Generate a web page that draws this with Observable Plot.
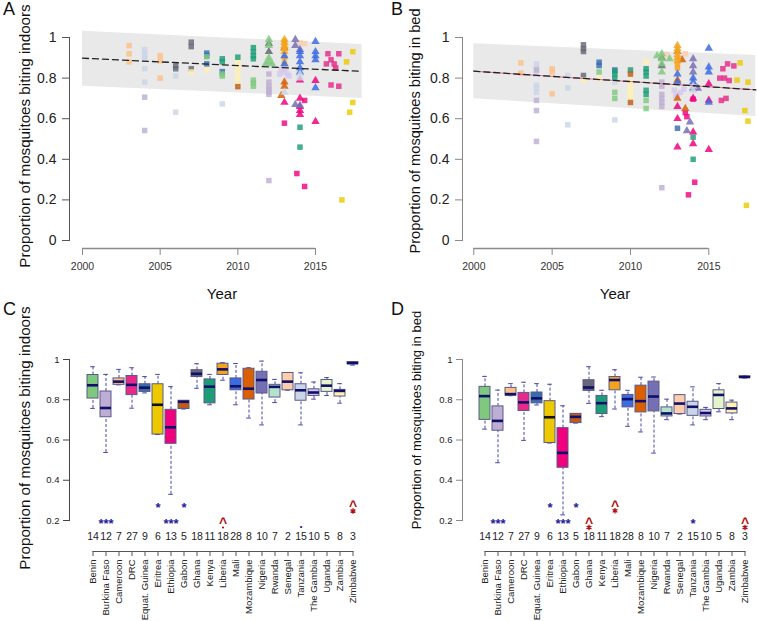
<!DOCTYPE html>
<html><head><meta charset="utf-8">
<script src="https://cdn.jsdelivr.net/npm/d3@7"></script>
<script src="https://cdn.jsdelivr.net/npm/@observablehq/plot@0.6"></script>
<style>
body{margin:0;background:#fff;font-family:"Liberation Sans",Arial,sans-serif;}
#wrap{position:relative;width:757px;height:621px;overflow:hidden;background:#fff;}
.panel{position:absolute;}
.txt{position:absolute;line-height:1;white-space:nowrap;color:#111;}
.rot{transform:translate(-50%,-50%) rotate(-90deg);}
.ctr{transform:translate(-50%,-50%);}
</style></head><body><div id="wrap"></div>
<script>
// ---------- data ----------
const countries = ["Benin","Burkina Faso","Cameroon","DRC","Equat. Guinea","Eritrea","Ethiopia","Gabon","Ghana","Kenya","Liberia","Mali","Mozambique","Nigeria","Rwanda","Senegal","Tanzania","The Gambia","Uganda","Zambia","Zimbabwe"];
const countryColors = ["#7fc97f","#beaed4","#fdc086","#e7298a","#386cb0","#eec900","#f0027f","#bf5b17","#666677","#1b9e77","#f4a41c","#3d6be0","#d95f02","#7570b3","#b3e2cd","#fdcdac","#cbd5e8","#d4c8ee","#e6f5c9","#fff2ae","#1c1c80"];
const sampleSizes = [14,12,7,27,9,6,13,5,18,11,18,28,8,10,7,2,15,10,5,8,3];
const yearTicks = [2000,2005,2010,2015];
const yTicksTop = [0,0.2,0.4,0.6,0.8,1];
const yTicksBottom = [0.2,0.4,0.6,0.8,1];

// boxplot stats: [lower whisker, q1, median, q3, upper whisker]
const indoorStats = [
 [0.757,0.806,0.872,0.923,0.964],[0.538,0.713,0.759,0.841,0.926],[0.874,0.874,0.890,0.906,0.951],[0.758,0.823,0.874,0.918,0.959],
 [0.834,0.839,0.860,0.877,0.915],[0.627,0.627,0.775,0.877,0.926],[0.330,0.581,0.663,0.750,0.865],[0.754,0.754,0.790,0.795,0.795],
 [0.857,0.913,0.929,0.947,0.979],[0.775,0.782,0.865,0.901,0.926],[0.897,0.923,0.951,0.979,0.984],[0.775,0.847,0.867,0.906,0.980],
 [0.709,0.801,0.855,0.954,0.959],[0.675,0.831,0.898,0.939,0.992],[0.786,0.811,0.864,0.874,0.901],[0.847,0.847,0.890,0.933,0.933],
 [0.675,0.795,0.847,0.877,0.934],[0.803,0.819,0.836,0.852,0.888],[0.821,0.839,0.870,0.898,0.910],[0.783,0.816,0.844,0.849,0.880],
 [0.972,0.977,0.982,0.987,0.990]];
const bedStats = [
 [0.654,0.700,0.818,0.864,0.916],[0.487,0.646,0.695,0.767,0.848],[0.820,0.820,0.828,0.859,0.880],[0.598,0.744,0.787,0.834,0.887],
 [0.774,0.782,0.807,0.836,0.880],[0.585,0.585,0.713,0.793,0.877],[0.228,0.462,0.536,0.659,0.770],[0.684,0.684,0.715,0.730,0.730],
 [0.782,0.844,0.861,0.897,0.964],[0.716,0.729,0.783,0.819,0.847],[0.754,0.847,0.898,0.913,0.949],[0.668,0.762,0.803,0.824,0.847],
 [0.640,0.737,0.793,0.870,0.912],[0.535,0.742,0.816,0.890,0.913],[0.701,0.717,0.732,0.762,0.803],[0.729,0.729,0.781,0.823,0.823],
 [0.675,0.720,0.765,0.790,0.864],[0.701,0.717,0.734,0.750,0.762],[0.740,0.754,0.824,0.847,0.880],[0.701,0.732,0.757,0.786,0.798],
 [0.908,0.910,0.913,0.916,0.918]];

// significance annotations: [country, y, symbol, mark below ("", "*", "."), colour]
const annotIndoor = [
 ["Burkina Faso",0.2,"***","","#1c1ca0"],["Eritrea",0.277,"*","","#1c1ca0"],["Ethiopia",0.2,"***","","#1c1ca0"],["Gabon",0.277,"*","","#1c1ca0"],
 ["Liberia",0.2,"^",".","#b01010"],["Tanzania",0.2,".","","#1c1ca0"],["Zimbabwe",0.282,"^","*","#b01010"]];
const annotBed = [
 ["Burkina Faso",0.2,"***","","#1c1ca0"],["Eritrea",0.277,"*","","#1c1ca0"],["Ethiopia",0.2,"***","","#1c1ca0"],["Gabon",0.277,"*","","#1c1ca0"],
 ["Ghana",0.2,"^","*","#b01010"],["Liberia",0.283,"^","*","#b01010"],["Tanzania",0.2,"*","","#1c1ca0"],["Zimbabwe",0.2,"^","*","#b01010"]];

// meta-regression fit: [year, lower, upper, fitted]
const fitIndoor = [[2000,0.760,1.031,0.898],[2018,0.700,0.966,0.833]];
const fitBed = [[2000,0.698,0.969,0.834],[2018,0.611,0.911,0.742]];

// study points: [country, year, proportion, shape s=square t=triangle]
const pointsIndoor = [
 ["Cameroon",2003,0.96,"s"],["Cameroon",2003,0.92,"s"],["Cameroon",2003,0.88,"s"],["Cameroon",2005,0.91,"s"],["Cameroon",2005,0.885,"s"],["Cameroon",2005,0.80,"s"],
 ["Tanzania",2004,0.94,"s"],["Tanzania",2004,0.925,"s"],["Tanzania",2004,0.91,"s"],["Tanzania",2004,0.895,"s"],["Tanzania",2004,0.846,"s"],["Tanzania",2004,0.78,"s"],["Tanzania",2006,0.81,"s"],["Tanzania",2006,0.632,"s"],["Tanzania",2009,0.673,"s"],
 ["Burkina Faso",2004,0.706,"s"],["Burkina Faso",2004,0.542,"s"],["Burkina Faso",2012,0.78,"s"],["Burkina Faso",2012,0.76,"s"],["Burkina Faso",2012,0.745,"s"],["Burkina Faso",2012,0.73,"s"],["Burkina Faso",2012,0.72,"s"],["Burkina Faso",2012,0.295,"s"],["Burkina Faso",2012,0.82,"s"],
 ["Ghana",2006,0.846,"s"],["Ghana",2006,0.86,"s"],["Ghana",2007,0.977,"s"],["Ghana",2007,0.955,"s"],["Ghana",2007,0.846,"s"],["Ghana",2012,0.97,"t"],["Ghana",2012,0.93,"t"],
 ["Zambia",2007,0.83,"s"],["Zambia",2008,0.84,"s"],["Zambia",2010,0.887,"s"],["Zambia",2010,0.86,"s"],["Zambia",2010,0.83,"s"],["Zambia",2010,0.80,"s"],["Zambia",2010,0.77,"s"],
 ["Equat. Guinea",2008,0.923,"s"],["Equat. Guinea",2008,0.91,"s"],["Equat. Guinea",2008,0.87,"s"],["Equat. Guinea",2009,0.832,"s"],
 ["Benin",2008,0.905,"s"],["Benin",2009,0.81,"s"],["Benin",2009,0.82,"s"],["Benin",2011,0.79,"s"],["Benin",2011,0.76,"s"],["Benin",2011,0.775,"s"],
 ["Benin",2012,0.99,"t"],["Benin",2012,0.96,"t"],["Benin",2012,0.90,"t"],["Benin",2012,0.88,"t"],["Benin",2011.8,0.87,"t"],["Benin",2012.2,0.87,"t"],
 ["Kenya",2009,0.895,"s"],["Kenya",2009,0.88,"s"],["Kenya",2010,0.903,"s"],["Kenya",2011,0.95,"s"],["Kenya",2011,0.93,"s"],["Kenya",2011,0.91,"s"],["Kenya",2011,0.895,"s"],["Kenya",2014,0.558,"s"],["Kenya",2014,0.46,"s"],
 ["Gabon",2010,0.758,"s"],
 ["Mozambique",2013,0.78,"t"],["Mozambique",2013,0.76,"t"],["Mozambique",2012.8,0.714,"t"],["Mozambique",2013,0.95,"t"],
 ["Liberia",2013,0.99,"t"],["Liberia",2013,0.975,"t"],["Liberia",2013,0.96,"t"],["Liberia",2013,0.945,"t"],["Liberia",2013,0.93,"t"],["Liberia",2013,0.98,"s"],["Liberia",2013,0.90,"s"],["Liberia",2013,0.87,"s"],
 ["The Gambia",2012.8,0.84,"s"],["The Gambia",2013,0.83,"s"],["The Gambia",2013.2,0.82,"s"],["The Gambia",2012.7,0.82,"s"],["The Gambia",2013.1,0.85,"s"],["The Gambia",2013.3,0.81,"s"],
 ["Ethiopia",2013,0.68,"t"],["Ethiopia",2014,0.70,"t"],["Ethiopia",2014,0.66,"t"],["Ethiopia",2014,0.64,"t"],["Ethiopia",2014,0.62,"t"],["Ethiopia",2015,0.788,"t"],["Ethiopia",2015,0.586,"t"],["Ethiopia",2014,0.79,"t"],
 ["Ethiopia",2013,0.578,"s"],["Ethiopia",2013.8,0.33,"s"],["Ethiopia",2014.3,0.266,"s"],["Ethiopia",2014.3,0.69,"s"],
 ["Nigeria",2013.7,0.99,"t"],["Nigeria",2013.7,0.96,"t"],["Nigeria",2013.7,0.67,"t"],["Nigeria",2014,0.665,"t"],["Nigeria",2014,0.94,"t"],
 ["Mali",2014,0.93,"t"],["Mali",2014,0.91,"t"],["Mali",2014,0.88,"t"],["Mali",2014,0.85,"t"],["Mali",2014,0.83,"t"],["Mali",2015,0.98,"t"],["Mali",2015,0.93,"t"],["Mali",2015,0.91,"t"],["Mali",2015,0.89,"t"],["Mali",2015,0.752,"t"],["Mali",2013,0.91,"t"],["Mali",2013,0.87,"t"],
 ["Tanzania",2014,0.80,"t"],["Tanzania",2014,0.82,"t"],["Tanzania",2013,0.73,"t"],
 ["Senegal",2014,0.975,"s"],["Senegal",2014.3,0.97,"s"],
 ["DRC",2015.8,0.92,"s"],["DRC",2016,0.89,"s"],["DRC",2016.2,0.87,"s"],["DRC",2015.7,0.87,"s"],["DRC",2016.5,0.92,"s"],["DRC",2016.3,0.85,"s"],["DRC",2016,0.766,"s"],["DRC",2016.5,0.76,"s"],
 ["Eritrea",2017,0.88,"s"],["Eritrea",2017.4,0.93,"s"],["Eritrea",2017.2,0.632,"s"],["Eritrea",2017.4,0.68,"s"],["Eritrea",2016.7,0.2,"s"]];

const pointsBed = [
 ["Cameroon",2003,0.875,"s"],["Cameroon",2003,0.824,"s"],["Cameroon",2005,0.846,"s"],["Cameroon",2005,0.83,"s"],["Cameroon",2005,0.723,"s"],
 ["Tanzania",2004,0.87,"s"],["Tanzania",2004,0.85,"s"],["Tanzania",2004,0.82,"s"],["Tanzania",2004,0.765,"s"],["Tanzania",2004,0.75,"s"],["Tanzania",2004,0.73,"s"],["Tanzania",2006,0.813,"s"],["Tanzania",2006,0.752,"s"],["Tanzania",2006,0.57,"s"],["Tanzania",2009,0.594,"s"],["Tanzania",2009,0.78,"s"],
 ["Burkina Faso",2004,0.84,"s"],["Burkina Faso",2004,0.69,"s"],["Burkina Faso",2004,0.64,"s"],["Burkina Faso",2004,0.488,"s"],["Burkina Faso",2012,0.78,"s"],["Burkina Faso",2012,0.76,"s"],["Burkina Faso",2012,0.72,"s"],["Burkina Faso",2012,0.70,"s"],["Burkina Faso",2012,0.68,"s"],["Burkina Faso",2012,0.66,"s"],["Burkina Faso",2012,0.26,"s"],
 ["Ghana",2007,0.964,"s"],["Ghana",2007,0.945,"s"],["Ghana",2007,0.931,"s"],["Ghana",2007,0.813,"s"],["Ghana",2012,0.90,"t"],["Ghana",2012,0.86,"t"],["Ghana",2013,0.93,"t"],
 ["Zambia",2007,0.79,"s"],["Zambia",2008,0.80,"s"],["Zambia",2010,0.78,"s"],["Zambia",2010,0.76,"s"],["Zambia",2010,0.74,"s"],["Zambia",2010,0.72,"s"],["Zambia",2010,0.70,"s"],["Zambia",2011,0.88,"s"],
 ["Equat. Guinea",2008,0.878,"s"],["Equat. Guinea",2008,0.862,"s"],["Equat. Guinea",2009,0.84,"s"],["Equat. Guinea",2013,0.553,"s"],
 ["Benin",2008,0.83,"s"],["Benin",2009,0.73,"s"],["Benin",2009,0.70,"s"],["Benin",2011,0.69,"s"],["Benin",2011,0.65,"s"],
 ["Benin",2012,0.92,"t"],["Benin",2012,0.895,"t"],["Benin",2012,0.87,"t"],["Benin",2012,0.83,"t"],["Benin",2012.5,0.895,"t"],["Benin",2011.7,0.91,"t"],
 ["Kenya",2009,0.835,"s"],["Kenya",2009,0.82,"s"],["Kenya",2009,0.80,"s"],["Kenya",2010,0.84,"s"],["Kenya",2011,0.846,"s"],["Kenya",2011,0.83,"s"],["Kenya",2011,0.81,"s"],["Kenya",2011,0.74,"s"],["Kenya",2011,0.72,"s"],["Kenya",2014,0.509,"s"],["Kenya",2014,0.40,"s"],
 ["Gabon",2010,0.82,"s"],["Gabon",2010,0.68,"s"],
 ["Mozambique",2013,0.79,"t"],["Mozambique",2013,0.70,"t"],["Mozambique",2013.3,0.89,"t"],["Mozambique",2013.5,0.65,"t"],
 ["Liberia",2013,0.96,"t"],["Liberia",2013,0.945,"t"],["Liberia",2013,0.93,"t"],["Liberia",2013,0.915,"t"],["Liberia",2013,0.90,"t"],["Liberia",2013,0.885,"t"],["Liberia",2013,0.87,"s"],["Liberia",2013,0.85,"s"],
 ["The Gambia",2012.8,0.74,"s"],["The Gambia",2013,0.72,"s"],["The Gambia",2012.9,0.71,"s"],["The Gambia",2013.2,0.73,"s"],["The Gambia",2013.4,0.745,"s"],
 ["Ethiopia",2013,0.66,"t"],["Ethiopia",2013,0.60,"t"],["Ethiopia",2013,0.46,"t"],["Ethiopia",2014,0.534,"t"],["Ethiopia",2014,0.476,"t"],["Ethiopia",2015,0.772,"t"],["Ethiopia",2015,0.69,"t"],["Ethiopia",2015,0.448,"t"],["Ethiopia",2014,0.70,"t"],
 ["Ethiopia",2013.5,0.63,"s"],["Ethiopia",2013.6,0.61,"s"],["Ethiopia",2013.7,0.225,"s"],["Ethiopia",2014.1,0.287,"s"],["Ethiopia",2014,0.696,"s"],
 ["Nigeria",2014,0.895,"t"],["Nigeria",2014,0.86,"t"],["Nigeria",2014,0.83,"t"],["Nigeria",2014,0.75,"t"],["Nigeria",2013.8,0.583,"t"],["Nigeria",2013.6,0.54,"t"],["Nigeria",2014.3,0.75,"t"],
 ["Mali",2013,0.82,"t"],["Mali",2013,0.78,"t"],["Mali",2014,0.80,"t"],["Mali",2014,0.78,"t"],["Mali",2015,0.947,"t"],["Mali",2015,0.854,"t"],["Mali",2015,0.83,"t"],["Mali",2015,0.68,"t"],
 ["Tanzania",2014,0.76,"t"],["Tanzania",2014,0.74,"t"],
 ["Senegal",2012.3,0.915,"s"],["Senegal",2013.5,0.92,"s"],
 ["DRC",2015.7,0.80,"s"],["DRC",2016,0.80,"s"],["DRC",2016.3,0.788,"s"],["DRC",2015.9,0.846,"s"],["DRC",2016.2,0.87,"s"],["DRC",2016.6,0.86,"s"],["DRC",2015.8,0.69,"s"],["DRC",2016.1,0.70,"s"],
 ["Eritrea",2017,0.875,"s"],["Eritrea",2016.8,0.79,"s"],["Eritrea",2017.5,0.78,"s"],["Eritrea",2017.3,0.64,"s"],["Eritrea",2017.5,0.588,"s"],["Eritrea",2017.4,0.173,"s"]];

// ---------- drawing ----------
const colorOf = Object.fromEntries(countries.map((c,i)=>[c,countryColors[i]]));
const FONT = "'Liberation Sans', Arial, sans-serif";
const wrap = document.getElementById("wrap");

function place(el, left, top){
  const d = document.createElement("div");
  d.className = "panel"; d.style.left = left+"px"; d.style.top = top+"px";
  d.appendChild(el); wrap.appendChild(d);
}
function label(text, x, y, size, cls){
  const d = document.createElement("div");
  d.className = "txt " + (cls||"");
  d.textContent = text;
  d.style.left = x+"px"; d.style.top = y+"px"; d.style.fontSize = size+"px";
  wrap.appendChild(d);
}

function scatterPanel(points, fit, o){
  const band = fit.map(d=>({year:d[0], lo:d[1], hi:d[2], fit:d[3]}));
  return Plot.plot({
    width: o.width, height: 300,
    marginLeft: o.left, marginTop: 37, marginBottom: 60, marginRight: 2,
    x: {domain: [yearTicks[0], yearTicks[yearTicks.length-1]], range: o.xRange},
    y: {domain: [0,1]},
    color: {type: "identity"},
    style: {fontFamily: FONT, background: "transparent", overflow: "visible", color: "#222"},
    marks: [
      Plot.areaY(band, {x: "year", y1: "lo", y2: "hi", fill: "#e9e9e9"}),
      Plot.dot(points.filter(p=>p[3]==="s"), {x: d=>d[1], y: d=>d[2], symbol: "square", r: 3.1, fill: d=>colorOf[d[0]], fillOpacity: 0.82}),
      Plot.dot(points.filter(p=>p[3]==="t"), {x: d=>d[1], y: d=>d[2], symbol: "triangle", r: 3.1, fill: d=>colorOf[d[0]], fillOpacity: 0.85}),
      o.pink ? Plot.line(band, {x: "year", y: "fit", stroke: "#e07090", strokeWidth: 1}) : null,
      Plot.line(band, {x: "year", y: "fit", stroke: "#222", strokeWidth: 1.3, strokeDasharray: "6,4"}),
      Plot.frame({anchor: "left", stroke: o.axisColor}),
      Plot.axisY({ticks: yTicksTop, tickSize: 7, tickPadding: 6, fontSize: 14, stroke: o.axisColor, fill: "#222", tickFormat: d=>String(d), label: null}),
      Plot.ruleY([0], {x1: yearTicks[0], x2: yearTicks[yearTicks.length-1], dy: 8, stroke: "#8a8a8a", strokeWidth: 1.6}),
      Plot.axisX({ticks: yearTicks, tickSize: 7, dy: 8, tickPadding: 7, fontSize: 10.5, stroke: "#8a8a8a", fill: "#333", tickFormat: d=>String(d), label: null})
    ]
  });
}

function boxPanel(stats, annots, o){
  const rows = countries.map((c,i)=>({country:c, lo:stats[i][0], q1:stats[i][1], med:stats[i][2], q3:stats[i][3], hi:stats[i][4],
    fill: countryColors[i], n: String(sampleSizes[i]), medColor: c==="Eritrea" ? "#111" : "#10106a"}));
  const wc = "#4646a8";
  const stars = annots.filter(a=>a[2]!=="^");
  const carets = annots.filter(a=>a[2]==="^");
  return Plot.plot({
    width: o.width, height: 321,
    marginLeft: o.left, marginTop: 59, marginBottom: 101, marginRight: 2,
    x: {type: "band", domain: countries, range: o.xRange, paddingInner: 0.16, paddingOuter: 0.08},
    y: {domain: [0.2, 1]},
    color: {type: "identity"},
    style: {fontFamily: FONT, background: "transparent", overflow: "visible", color: "#222"},
    marks: [
      Plot.ruleX(rows, {x: "country", y1: "q3", y2: "hi", stroke: wc, strokeDasharray: "3,2"}),
      Plot.ruleX(rows, {x: "country", y1: "lo", y2: "q1", stroke: wc, strokeDasharray: "3,2"}),
      Plot.tickY(rows, {x: "country", y: "hi", stroke: wc, inset: 3.2}),
      Plot.tickY(rows, {x: "country", y: "lo", stroke: wc, inset: 3.2}),
      Plot.barY(rows, {x: "country", y1: "q1", y2: "q3", fill: "fill", stroke: "#5a5a88", strokeWidth: 1}),
      Plot.tickY(rows, {x: "country", y: "med", stroke: "medColor", strokeWidth: 2.6}),
      Plot.text(stars, {x: d=>d[0], y: d=>d[1], text: d=>d[2], fill: d=>d[4], fontSize: 13, fontWeight: "bold", dy: 3}),
      Plot.text(carets, {x: d=>d[0], y: d=>d[1], text: d=>d[2], fill: d=>d[4], fontSize: 14, fontWeight: "bold", dy: 3}),
      Plot.dot(carets.filter(a=>a[3]==="*"), {x: d=>d[0], y: d=>d[1], symbol: "asterisk", r: 2.6, stroke: d=>d[4], strokeWidth: 1.3, dy: 7}),
      Plot.dot(carets.filter(a=>a[3]==="."), {x: d=>d[0], y: d=>d[1], r: 1.1, fill: d=>d[4], stroke: "none", dy: 7}),
      Plot.text(rows, {x: "country", text: "n", frameAnchor: "bottom", dy: 19, fontSize: 10.5, fill: "#222"}),
      Plot.frame({anchor: "left", stroke: o.axisColor}),
      Plot.axisY({ticks: yTicksBottom, tickSize: 6, tickPadding: 4, fontSize: 9.5, stroke: o.axisColor, fill: "#222", tickFormat: d=>String(d), label: null}),
      Plot.line([countries[0], countries[countries.length-1]], {x: d=>d, y: () => 0.2, dy: 31, stroke: "#555", strokeWidth: 1}),
      Plot.axisX({tickSize: 5, dy: 31, tickRotate: -90, tickPadding: 3, fontSize: 9.5, stroke: "#555", fill: "#222", label: null})
    ]
  });
}

place(scatterPanel(pointsIndoor, fitIndoor, {width: 378, left: 69, xRange: [82, 315], axisColor: "#555"}), 0, 0);
place(scatterPanel(pointsBed, fitBed, {width: 379, left: 84, xRange: [95.3, 330.3], axisColor: "#888", pink: true}), 378, 0);
place(boxPanel(indoorStats, annotIndoor, {width: 378, left: 69, xRange: [81, 363.5], axisColor: "#444"}), 0, 300);
place(boxPanel(bedStats, annotBed, {width: 379, left: 84, xRange: [95.6, 377], axisColor: "#888"}), 378, 300);

label("A", 3, 0, 18); label("B", 391, 0, 18); label("C", 3, 300, 18); label("D", 391, 300, 18);
label("Proportion of mosquitoes biting indoors", 25, 136, 15.2, "rot");
label("Proportion of mosquitoes biting in bed", 415, 131, 14.6, "rot");
label("Proportion of mosquitoes biting indoors", 25, 438, 15.2, "rot");
label("Proportion of mosquitoes biting in bed", 416, 420, 13, "rot");
label("Year", 222, 293, 15, "ctr");
label("Year", 615, 293, 15, "ctr");
</script>
</body></html>
